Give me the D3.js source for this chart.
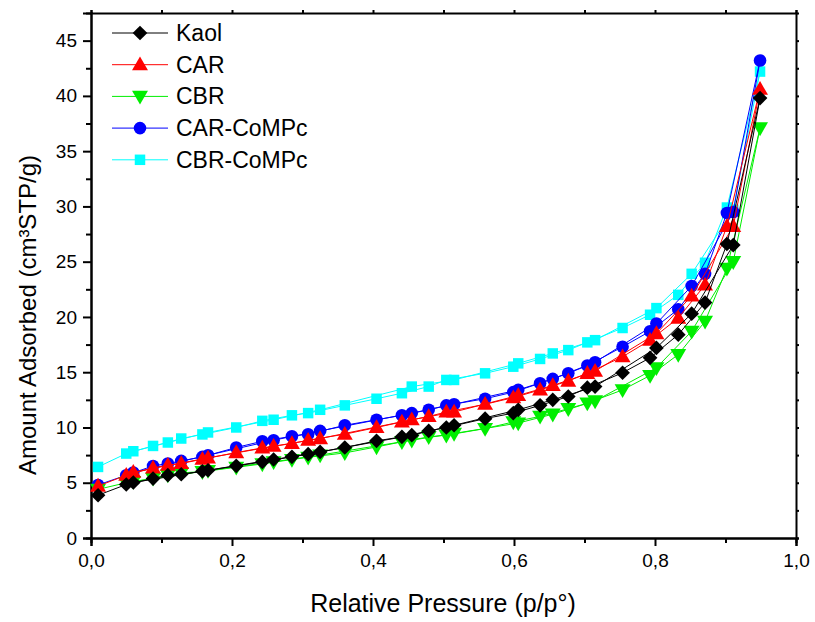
<!DOCTYPE html>
<html>
<head>
<meta charset="utf-8">
<script src="https://cdn.jsdelivr.net/npm/d3@7"></script>
<style>
  body { margin: 0; background: #fff; }
  text { font-family: "Liberation Sans", Arial, sans-serif; }
</style>
</head>
<body>
<div id="chart-container"></div>
<script>
// relative pressure of each measured point, ascending
let pressure = [0.010, 0.050, 0.060, 0.088, 0.109, 0.128, 0.158, 0.166, 0.206, 0.243,
    0.259, 0.285, 0.308, 0.325, 0.360, 0.405, 0.441, 0.455, 0.479, 0.504,
    0.515, 0.559, 0.599, 0.606, 0.637, 0.655, 0.677, 0.704, 0.715, 0.754,
    0.793, 0.802, 0.833, 0.852, 0.871, 0.902, 0.911, 0.949];
// 1 = point belongs to the desorption branch
let desorption = [0, 0, 1, 0, 0, 0, 0, 1, 0, 0,
    1, 0, 0, 1, 0, 0, 0, 1, 0, 0,
    1, 0, 0, 1, 0, 1, 0, 0, 1, 0,
    0, 1, 0, 1, 0, 0, 1, 0];

let kaol = [3.87, 4.84, 5.02, 5.38, 5.68, 5.77, 6.04, 6.13, 6.52, 6.88,
    7.10, 7.34, 7.58, 7.79, 8.19, 8.79, 9.15, 9.30, 9.69, 10.0,
    10.2, 10.8, 11.3, 11.6, 12.0, 12.5, 12.8, 13.6, 13.7, 14.95,
    16.3, 17.2, 18.4, 20.3, 21.3, 26.6, 26.5, 39.8];
let car = [4.7, 5.68, 5.95, 6.34, 6.58, 6.74, 7.13, 7.25, 7.73, 8.15,
    8.3, 8.55, 8.85, 9.0, 9.39, 10.0, 10.5, 10.7, 11.0, 11.4,
    11.4, 12.1, 12.7, 12.9, 13.4, 13.8, 14.2, 14.9, 15.1, 16.4,
    17.9, 18.5, 19.9, 21.9, 22.9, 28.2, 28.2, 40.6];
let cbr = [4.4, 5.0, 5.1, 5.4, 5.7, 5.9, 6.0, 6.1, 6.4, 6.7,
    6.9, 7.1, 7.3, 7.5, 7.7, 8.24, 8.7, 8.85, 9.15, 9.3,
    9.46, 9.9, 10.5, 10.4, 11.0, 11.2, 11.7, 12.2, 12.4, 13.4,
    14.7, 15.4, 16.6, 18.7, 19.6, 24.4, 25.0, 37.1];
let carCoMPc = [4.8, 5.68, 5.92, 6.52, 6.74, 6.98, 7.34, 7.49, 8.19, 8.75,
    8.85, 9.21, 9.39, 9.69, 10.2, 10.7, 11.1, 11.3, 11.6, 12.0,
    12.1, 12.6, 13.2, 13.4, 14.0, 14.4, 14.9, 15.6, 15.9, 17.3,
    18.7, 19.4, 20.7, 22.8, 23.9, 29.4, 29.5, 43.2];
let cbrCoMPc = [6.43, 7.64, 7.85, 8.33, 8.64, 9.0, 9.37, 9.55, 10.0, 10.6,
    10.7, 11.1, 11.3, 11.6, 12.0, 12.6, 13.1, 13.7, 13.7, 14.3,
    14.3, 14.9, 15.5, 15.8, 16.2, 16.7, 17.0, 17.7, 17.9, 19.0,
    20.2, 20.8, 22.0, 23.9, 24.9, 29.9, 29.7, 42.2];

let seriesNames = ["Kaol", "CAR", "CBR", "CAR-CoMPc", "CBR-CoMPc"];
let seriesValues = [kaol, car, cbr, carCoMPc, cbrCoMPc];
let seriesColors = ["#000000", "#ff0000", "#00ee00", "#0000ff", "#00ffff"];
let seriesSymbols = ["diamond", "up", "down", "circle", "square"];

let xTicks = [0, 0.2, 0.4, 0.6, 0.8, 1.0];
let yTicks = [0, 5, 10, 15, 20, 25, 30, 35, 40, 45];

let margin = {top: 13, right: 19, bottom: 84, left: 91},
    width = 815 - margin.left - margin.right,
    height = 622 - margin.top - margin.bottom;

let svg = d3.select("#chart-container")
    .append("svg")
    .attr("width", 815)
    .attr("height", 622)
    .append("g")
    .attr("transform", "translate(" + margin.left + "," + margin.top + ")");

let x = d3.scaleLinear().domain([0, 1.0]).range([0, width]);
let y = d3.scaleLinear().domain([0, 47.5]).range([height, 0]);

let fmt = d => d3.format(".1f")(d).replace(".", ",");

function symbolPath(kind) {
    // diamond is a square turned 45 degrees, like Origin draws it
    if (kind === "diamond") return d3.symbol(d3.symbolSquare, 108)();
    if (kind === "circle") return d3.symbol(d3.symbolCircle, 125)();
    if (kind === "square") return d3.symbol(d3.symbolSquare, 110)();
    return d3.symbol(d3.symbolTriangle, 110)();
}

function drawMarker(g, kind, color, cx, cy) {
    let rot = kind === "down" ? 180 : (kind === "diamond" ? 45 : 0);
    let dy = kind === "up" ? 1 : (kind === "down" ? -1 : 0);
    g.append("path")
        .attr("d", symbolPath(kind))
        .attr("transform", "translate(" + cx + "," + (cy + dy) + ") rotate(" + rot + ")")
        .attr("fill", color);
}

// axes: bottom / left with labels, top / right as frame
let xAxis = d3.axisBottom(x).tickValues(xTicks).tickFormat(fmt).tickSize(8).tickPadding(8);
let xMinor = d3.axisBottom(x).tickValues([0.1, 0.3, 0.5, 0.7, 0.9]).tickFormat("").tickSize(5);
let yAxis = d3.axisLeft(y).tickValues(yTicks).tickFormat(d3.format("d")).tickSize(8).tickPadding(6);
let yMinor = d3.axisLeft(y).tickValues(d3.range(2.5, 47.5, 5)).tickFormat("").tickSize(5);

svg.append("g").attr("class", "x axis").attr("transform", "translate(0," + height + ")").call(xAxis);
svg.append("g").attr("class", "x minor").attr("transform", "translate(0," + height + ")").call(xMinor);
svg.append("g").attr("class", "y axis").call(yAxis);
svg.append("g").attr("class", "y minor").call(yMinor);
svg.append("g").attr("class", "top").call(d3.axisTop(x).tickValues(d3.range(0, 1.01, 0.1)).tickFormat("").tickSize(3));
svg.append("g").attr("class", "right").attr("transform", "translate(" + width + ",0)")
    .call(d3.axisRight(y).tickValues(d3.range(0, 47.5, 2.5)).tickFormat("").tickSize(3));

svg.selectAll(".domain").attr("stroke", "#000").attr("stroke-width", 2);
svg.selectAll(".tick line").attr("stroke", "#000").attr("stroke-width", 2);
svg.selectAll(".tick text").style("font-size", "19px").attr("fill", "#000");

// curves, drawn last series first so Kaol ends on top
let line = d3.line().x(d => x(d[0])).y(d => y(d[1]));
for (let s = seriesValues.length - 1; s >= 0; s--) {
    let vals = seriesValues[s];
    let ads = [], des = [];
    pressure.forEach((p, i) => {
        if (desorption[i]) des.push([p, vals[i]]);
        else ads.push([p, vals[i]]);
    });
    des.push(ads[ads.length - 1]);
    let g = svg.append("g");
    g.append("path").datum(ads).attr("d", line)
        .attr("fill", "none").attr("stroke", seriesColors[s]).attr("stroke-width", 1);
    g.append("path").datum(des).attr("d", line)
        .attr("fill", "none").attr("stroke", seriesColors[s]).attr("stroke-width", 1);
    pressure.forEach((p, i) => {
        drawMarker(g, seriesSymbols[s], seriesColors[s], x(p), y(vals[i]));
    });
}

// axis titles
svg.append("text")
    .attr("x", 352)
    .attr("y", height + 74)
    .style("text-anchor", "middle")
    .style("font-size", "25px")
    .text("Relative Pressure (p/p°)");

svg.append("text")
    .attr("transform", "rotate(-90)")
    .attr("x", -302)
    .attr("y", -55)
    .style("text-anchor", "middle")
    .style("font-size", "24px")
    .text("Amount Adsorbed (cm³STP/g)");

// legend
let legend = svg.append("g").attr("transform", "translate(21,20)");
seriesNames.forEach((name, i) => {
    let row = legend.append("g").attr("transform", "translate(0," + (i * 31.7) + ")");
    row.append("line").attr("x1", 0).attr("x2", 56).attr("y1", 0).attr("y2", 0)
        .attr("stroke", seriesColors[i]).attr("stroke-width", 1);
    drawMarker(row, seriesSymbols[i], seriesColors[i], 28, 0);
    row.append("text").attr("x", 64).attr("y", 8)
        .style("font-size", "23px")
        .text(name);
});
</script>
</body>
</html>
